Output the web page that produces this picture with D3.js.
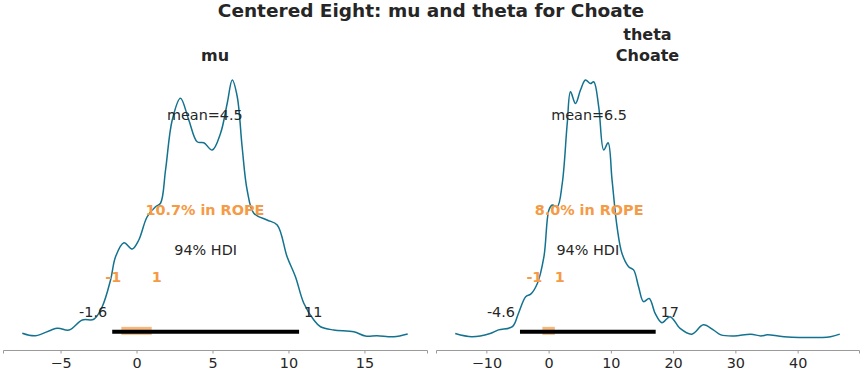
<!DOCTYPE html>
<html>
<head>
<meta charset="utf-8">
<script src="https://cdn.jsdelivr.net/npm/d3@7"></script>
<style>
  body { margin: 0; background: #fff; }
  text { font-family: "DejaVu Sans", sans-serif; }
</style>
</head>
<body>
<svg id="chart" width="862" height="375"></svg>
<script>
// kde of mu
const muX = [-7.52, -6.64, -5.22, -4.45, -3.57, -2.81, -2.26, -1.71, -1.38, -0.83, -0.28, 0.15, 0.70, 1.25, 1.58, 1.91, 2.35, 2.89, 3.44, 3.99, 4.43, 4.98, 5.53, 5.97, 6.30, 6.63, 6.95, 7.28, 7.72, 8.59, 9.26, 9.91, 10.46, 11.01, 11.67, 12.11, 12.98, 14.30, 15.07, 15.83, 16.93, 17.85];
const muY = [0.0015, 0.0005, 0.0035, 0.0028, 0.0068, 0.0071, 0.0121, 0.0228, 0.0321, 0.0377, 0.0352, 0.0388, 0.0481, 0.0521, 0.0535, 0.0668, 0.0868, 0.0955, 0.0868, 0.0781, 0.0777, 0.0748, 0.0815, 0.0935, 0.1028, 0.0961, 0.0761, 0.0588, 0.0495, 0.0468, 0.0448, 0.0321, 0.0241, 0.0135, 0.0068, 0.0041, 0.0028, 0.0021, 0.0004, 0.0005, 0.0001, 0.0012];

// kde of theta[Choate]
const thX = [-15.0, -12.32, -9.39, -8.05, -5.81, -4.85, -3.68, -2.88, -1.81, -0.75, 0.05, 0.59, 1.39, 2.19, 2.99, 3.52, 4.32, 5.12, 5.92, 6.72, 7.25, 8.05, 8.85, 9.55, 10.19, 10.99, 11.79, 12.85, 13.65, 14.45, 15.25, 16.16, 17.12, 18.19, 19.52, 21.12, 22.99, 24.85, 26.45, 27.68, 29.81, 32.48, 34.08, 35.15, 37.81, 45.28, 46.77];
const thY = [0.0010, 0.0001, 0.0010, 0.0020, 0.0029, 0.0066, 0.0113, 0.0120, 0.0150, 0.0225, 0.0356, 0.0370, 0.0365, 0.0430, 0.0598, 0.0687, 0.0654, 0.0692, 0.0720, 0.0710, 0.0715, 0.0645, 0.0524, 0.0544, 0.0440, 0.0309, 0.0234, 0.0197, 0.0188, 0.0141, 0.0099, 0.0108, 0.0066, 0.0040, 0.0057, 0.0024, 0.0008, 0.0034, 0.0020, 0.0006, 0.0003, 0.0008, 0.0003, 0.0006, 0.0001, 0.0001, 0.0008];

const titles = [["mu"], ["theta", "Choate"]];
const means = [4.5, 6.5];
const hdis = [[-1.6, 10.7], [-4.6, 17.2]];
const hdiLabels = [["-1.6", "11"], ["-4.6", "17"]];
const rope = [-1, 1];
const ropePct = ["10.7% in ROPE", "8.0% in ROPE"];
const ticks = [[-5, 0, 5, 10, 15], [-10, 0, 10, 20, 30, 40]];

const blue = "#13728f";
const orange = "#f59a45";
const ink = "#262626";

const svg = d3.select("#chart");

svg.append("text")
  .attr("x", 431).attr("y", 12)
  .attr("text-anchor", "middle").attr("dominant-baseline", "middle")
  .attr("font-size", 18.5).attr("font-weight", "bold").attr("fill", ink)
  .text("Centered Eight: mu and theta for Choate");

const panels = [
  { xs: muX, ys: muY, left: 3, right: 427 },
  { xs: thX, ys: thY, left: 436, right: 859 }
];

const axisY = 350, baseY = 337, topY = 80;

panels.forEach((p, i) => {
  const ext = d3.extent(p.xs);
  const pad = (ext[1] - ext[0]) * 0.05;
  const x = d3.scaleLinear().domain([ext[0] - pad, ext[1] + pad]).range([p.left, p.right]);
  const peak = d3.max(p.ys);
  const y = d3.scaleLinear().domain([0, peak]).range([baseY, topY]);
  const g = svg.append("g");

  // axis
  const ax = g.append("g")
    .attr("transform", `translate(0,${axisY})`)
    .call(d3.axisBottom(x).tickValues(ticks[i]).tickSizeOuter(0).tickSize(3.5).tickPadding(4));
  ax.select(".domain").attr("stroke", "#9a9a9a");
  ax.selectAll(".tick line").attr("stroke", "#9a9a9a");
  ax.selectAll(".tick text").attr("font-size", 14.4).attr("fill", ink)
    .attr("font-family", "DejaVu Sans, sans-serif");

  // title
  const tl = titles[i];
  tl.forEach((t, k) => {
    g.append("text")
      .attr("x", (p.left + p.right) / 2)
      .attr("y", 56 - (tl.length - 1 - k) * 21)
      .attr("text-anchor", "middle").attr("dominant-baseline", "middle")
      .attr("font-size", 16).attr("font-weight", "bold").attr("fill", ink)
      .text(t);
  });

  // kde curve
  const pts = p.xs.map((v, k) => [v, p.ys[k]]);
  g.append("path")
    .datum(pts)
    .attr("fill", "none").attr("stroke", blue).attr("stroke-width", 1.5)
    .attr("d", d3.line().x(d => x(d[0])).y(d => y(d[1])).curve(d3.curveCatmullRom.alpha(0.5)));

  // rope band under the hdi line
  const lineY = y(peak * 0.02);
  g.append("line")
    .attr("x1", x(rope[0])).attr("x2", x(rope[1]))
    .attr("y1", lineY - 1).attr("y2", lineY - 1)
    .attr("stroke", orange).attr("stroke-opacity", 0.7).attr("stroke-width", 8);
  g.append("line")
    .attr("x1", x(hdis[i][0])).attr("x2", x(hdis[i][1]))
    .attr("y1", lineY).attr("y2", lineY)
    .attr("stroke", "#000").attr("stroke-width", 4);

  const label = (tx, ty, str, anchor, color, bold) => g.append("text")
    .attr("x", tx).attr("y", ty)
    .attr("text-anchor", anchor).attr("dominant-baseline", "middle")
    .attr("font-size", 14.4).attr("fill", color)
    .attr("font-weight", bold ? "bold" : "normal")
    .text(str);

  label(x(hdis[i][0]) - 5, y(peak * 0.093), hdiLabels[i][0], "end", ink);
  label(x(hdis[i][1]) + 5, y(peak * 0.093), hdiLabels[i][1], "start", ink);
  label(x((hdis[i][0] + hdis[i][1]) / 2), y(peak * 0.335), "94% HDI", "middle", ink);
  label(x(rope[0]), y(peak * 0.23), "-1", "end", orange, true);
  label(x(rope[1]), y(peak * 0.23), "1", "start", orange, true);
  label(x(means[i]), y(peak * 0.49), ropePct[i], "middle", orange, true);
  label(x(means[i]), y(peak * 0.86), "mean=" + means[i], "middle", ink);
});
</script>
</body>
</html>
